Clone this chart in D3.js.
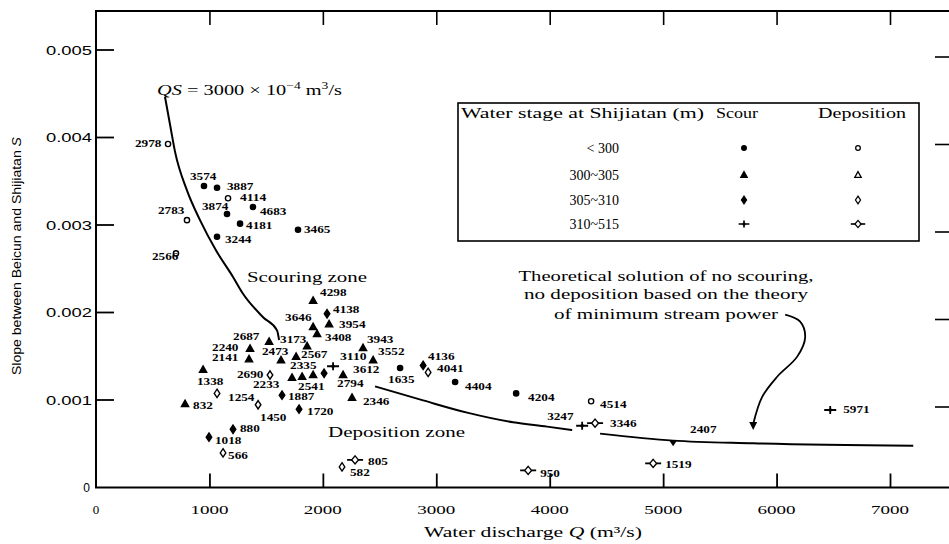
<!DOCTYPE html>
<html><head><meta charset="utf-8">
<script src="https://cdn.jsdelivr.net/npm/d3@7"></script>
<style>body{margin:0;background:#fff}svg{display:block}</style>
</head><body>
<svg id="c" width="949" height="544"></svg>
<script>
// ---------- data ----------
const xTicks = [0, 1000, 2000, 3000, 4000, 5000, 6000, 7000];
const xTickLabels = ["0", "1000", "2000", "3000", "4000", "5000", "6000", "7000"];
const yTicks = [0, 0.001, 0.002, 0.003, 0.004, 0.005];
const yTickLabels = ["0", "0.001", "0.002", "0.003", "0.004", "0.005"];

const legendStages = ["< 300", "300~305", "305~310", "310~515"];

// point values: discharge Q, slope S, kind (scour / deposition), stage index
const pointLabels = ["2978","3574","3887","4114","3874","4683","4181","3465","3244","2783","2566",
  "4298","4138","3954","3646","3408","2687","3173","2567","2240","2141","2473","2335","2541","2233","",
  "3943","3552","3110","3612","2794","2690","","1338","832","1887","1254","1450","2346","1720",
  "880","1018","566","805","582","950","1519","1635","4136","4041","4404","4204","4514","3247","3346","5971","2407"];
const pointQ = [635,952,1067,1164,1155,1384,1270,1781,1067,802,705,
  1914,2037,2055,1914,1949,1526,1861,1764,1358,1349,1631,1914,1817,1728,2011,
  2354,2443,2090,2178,2240,1534,944,1067,785,1640,1429,1561,2257,1790,
  1208,996,1120,2284,2169,3810,4912,2681,2884,2928,3166,3704,4365,4286,4400,6473,5088];
const pointS = [0.00392,0.00344,0.00342,0.00330,0.00312,0.00320,0.00301,0.00294,0.00286,0.00305,0.00267,
  0.00213,0.00198,0.00186,0.00183,0.00175,0.00166,0.00161,0.00149,0.00158,0.00146,0.00145,0.00128,0.00126,0.00125,0.00130,
  0.00159,0.00145,0.00138,0.00128,0.00118,0.00128,0.00134,0.00107,0.00095,0.00105,0.00094,0.00079,0.00102,0.00089,
  0.00066,0.00057,0.00039,0.00031,0.00023,0.00019,0.00027,0.00136,0.00139,0.00131,0.00120,0.00107,0.00098,0.00070,0.00073,0.00088,0.00050];
const pointKind = ["d","s","s","d","s","s","s","s","s","d","d",
  "s","s","s","s","s","s","s","s","s","s","s","s","s","s","s",
  "s","s","s","s","n","d","s","d","s","s","d","n","s","s",
  "s","s","d","d","d","d","d","s","s","d","s","s","d","s","d","s","m"];
const pointStage = [0,0,0,0,0,0,0,0,0,0,0,
  1,2,1,1,1,1,1,1,1,1,1,1,1,1,2,
  1,1,3,1,-1,2,1,2,1,2,2,-1,1,2,
  2,2,2,3,2,3,3,0,2,2,0,0,0,3,3,3,-1];

// QS = const curve
const qsCurveQ = [608,653,697,802,917,1060,1208,1290,1473,1596,1614];
const qsCurveS = [0.00446,0.00414,0.00383,0.00339,0.00305,0.00270,0.00240,0.00222,0.00194,0.00179,0.00168];
// theoretical solution (null = gap)
const theoryQ = [2460,2884,3272,3677,3977,4198,null,4444,5088,5794,7205];
const theoryS = [0.00115,0.00099,0.00085,0.00074,0.00069,0.00065,null,0.00061,0.00053,0.00050,0.00047];
// annotation arrow path
const arrowQ = [6076,6208,6252,6182,6005,5873,5794];
const arrowS = [0.00197,0.00189,0.00171,0.00149,0.00126,0.00103,0.00072];

// ---------- layout ----------
const labelOffset = [[-33,3],[-14,-6],[10,2],[12,3],[-25,-4],[7,8],[6,5],[6,3],[8,6],[-29,-6],[-24,7],
  [7,-5],[6,-1],[10,4],[-28,-6],[8,7],[-36,-2],[-27,-3],[5,1],[-38,2],[-37,2],[-19,-5],[-23,-6],[-4,13],[-39,10],[0,0],
  [4,-5],[5,-5],[7,-6],[10,-2],[-13,3],[-33,3],[0,0],[-20,-8],[8,5],[6,5],[-30,-4],[-13,3],[11,7],[8,6],
  [7,3],[6,7],[5,6],[13,5],[8,9],[12,7],[12,5],[-12,15],[5,-5],[9,0],[10,8],[12,8],[9,7],[-35,-6],[15,4],[13,3],[17,-10]];

const svg = d3.select("#c");
const x = d3.scaleLinear().domain([0, 7000]).range([96, 890]);
const y = d3.scaleLinear().domain([0, 0.005]).range([487, 49.5]);
const serif = "'Liberation Serif','Times New Roman',serif";
const sans = "'Liberation Sans','DejaVu Sans',sans-serif";

// frame
const frame = svg.append("g").attr("stroke","#000").attr("fill","none");
frame.append("line").attr("x1",96).attr("x2",96).attr("y1",11).attr("y2",488).attr("stroke-width",2);
frame.append("line").attr("x1",95).attr("x2",949).attr("y1",487.5).attr("y2",487.5).attr("stroke-width",2);
frame.append("line").attr("x1",95).attr("x2",949).attr("y1",11).attr("y2",11).attr("stroke-width",1.8);

// axes via d3
const bottomAxis = d3.axisBottom(x).tickValues(xTicks.slice(1)).tickSize(-14).tickFormat("");
svg.append("g").attr("transform","translate(0,487.5)").call(bottomAxis)
  .call(g=>{g.select(".domain").remove(); g.selectAll("line").attr("stroke","#000").attr("stroke-width",1.8);});
const topAxis = d3.axisTop(x).tickValues(xTicks.slice(1)).tickSize(-14).tickFormat("");
svg.append("g").attr("transform","translate(0,11)").call(topAxis)
  .call(g=>{g.select(".domain").remove(); g.selectAll("line").attr("stroke","#000").attr("stroke-width",1.6);});
const leftAxis = d3.axisLeft(y).tickValues(yTicks.slice(1)).tickSize(-18).tickFormat("");
svg.append("g").attr("transform","translate(96,0)").call(leftAxis)
  .call(g=>{g.select(".domain").remove(); g.selectAll("line").attr("stroke","#000").attr("stroke-width",1.8);});
const rightAxis = d3.axisRight(y).tickValues(yTicks.slice(1)).tickSize(-14).tickFormat("");
svg.append("g").attr("transform","translate(949,7)").call(rightAxis)
  .call(g=>{g.select(".domain").remove(); g.selectAll("line").attr("stroke","#000").attr("stroke-width",1.6);});

// tick labels
svg.append("g").selectAll("text").data(xTicks).join("text")
  .attr("x", d=>x(d)).attr("y", 514).attr("text-anchor","middle")
  .attr("font-family", serif).attr("font-size", 13)
  .attr("textLength",(d,i)=>xTickLabels[i].length>1?38:null)
  .attr("lengthAdjust","spacingAndGlyphs")
  .text((d,i)=>xTickLabels[i]);
svg.append("g").selectAll("text").data(yTicks).join("text")
  .attr("x", (d,i)=>i===0?90:92).attr("y", d=>y(d)+5).attr("text-anchor","end")
  .attr("font-family", sans).attr("font-size", 12)
  .attr("textLength",(d,i)=>yTickLabels[i].length>1?46:null)
  .attr("lengthAdjust","spacingAndGlyphs")
  .text((d,i)=>yTickLabels[i]);

// axis titles
const xt = svg.append("text").attr("x",533).attr("y",537).attr("text-anchor","middle")
  .attr("font-family",serif).attr("font-size",14).attr("textLength",218).attr("lengthAdjust","spacingAndGlyphs");
xt.append("tspan").text("Water discharge ");
xt.append("tspan").attr("font-style","italic").text("Q");
xt.append("tspan").text(" (m³/s)");
const yt = svg.append("text").attr("transform","translate(21,256) rotate(-90)").attr("text-anchor","middle")
  .attr("font-family",sans).attr("font-size",12).attr("textLength",238).attr("lengthAdjust","spacingAndGlyphs");
yt.append("tspan").text("Slope between Beicun and Shijiatan ");
yt.append("tspan").attr("font-style","italic").text("S");

// curves
const line = d3.line().defined(d=>d[0]!==null).x(d=>x(d[0])).y(d=>y(d[1])).curve(d3.curveMonotoneX);
svg.append("path").attr("d", line(qsCurveQ.map((q,i)=>[q,qsCurveS[i]])))
  .attr("fill","none").attr("stroke","#000").attr("stroke-width",2);
svg.append("path").attr("d", line(theoryQ.map((q,i)=>[q,theoryS[i]])))
  .attr("fill","none").attr("stroke","#000").attr("stroke-width",2);
const arrowLine = d3.line().x(d=>x(d[0])).y(d=>y(d[1])).curve(d3.curveCatmullRom);
svg.append("path").attr("d", arrowLine(arrowQ.map((q,i)=>[q,arrowS[i]])))
  .attr("fill","none").attr("stroke","#000").attr("stroke-width",1.8);
{ // arrow head
  const ax = x(arrowQ[arrowQ.length-1]), ay = y(arrowS[arrowS.length-1]);
  svg.append("path").attr("d",`M${ax-4},${ay-2}L${ax+4},${ay-2}L${ax},${ay+6}Z`).attr("fill","#000");
}

// symbols
function sym(g, kind, stage, cx, cy, scale=1){
  const k = scale;
  const fill = kind==="s" ? "#000" : "#fff";
  const st = {stroke:"#000","stroke-width":1.4*k};
  const ap = (el,o)=>{for(const a in o) el.attr(a,o[a]); return el;};
  if(kind==="m"){
    g.append("path").attr("d",`M${cx-4},${cy-3}L${cx+4},${cy-3}L${cx},${cy+3}Z`).attr("fill","#000");
    return;
  }
  if(stage===0){
    ap(g.append("circle").attr("cx",cx).attr("cy",cy).attr("r",2.6*k).attr("fill",fill), st);
  } else if(stage===1){
    ap(g.append("path").attr("d",`M${cx},${cy-3.8*k}L${cx+3.6*k},${cy+2.6*k}L${cx-3.6*k},${cy+2.6*k}Z`).attr("fill",fill), st);
  } else if(stage===2){
    ap(g.append("path").attr("d",`M${cx},${cy-4.2*k}L${cx+2.8*k},${cy}L${cx},${cy+4.2*k}L${cx-2.8*k},${cy}Z`).attr("fill",fill), st);
  } else if(stage===3){
    if(kind==="s"){
      ap(g.append("path").attr("d",`M${cx-6*k},${cy}H${cx+6*k}M${cx},${cy-4*k}V${cy+4*k}`).attr("fill","none"), {stroke:"#000","stroke-width":1.8*k});
      g.append("circle").attr("cx",cx).attr("cy",cy).attr("r",1.8*k).attr("fill","#000");
    } else {
      ap(g.append("path").attr("d",`M${cx-8*k},${cy}H${cx+8*k}`).attr("fill","none"), {stroke:"#000","stroke-width":1.8*k});
      ap(g.append("path").attr("d",`M${cx},${cy-4*k}L${cx+3.4*k},${cy}L${cx},${cy+4*k}L${cx-3.4*k},${cy}Z`).attr("fill","#fff"), st);
    }
  }
}

const pts = svg.append("g");
pointQ.forEach((q,i)=>{
  const cx = x(q), cy = y(pointS[i]);
  if(pointKind[i]!=="n") sym(pts, pointKind[i], pointStage[i], cx, cy);
  const lab = pointLabels[i];
  if(lab){
    const [dx,dy] = labelOffset[i];
    pts.append("text").attr("x",cx+dx).attr("y",cy+dy)
      .attr("font-family",serif).attr("font-size",10).attr("font-weight","bold")
      .attr("textLength",lab.length*6.6).attr("lengthAdjust","spacingAndGlyphs")
      .text(lab);
  }
});

// in-plot texts
const qs = svg.append("text").attr("x",157).attr("y",95).attr("font-family",serif).attr("font-size",15)
  .attr("textLength",185).attr("lengthAdjust","spacingAndGlyphs");
qs.append("tspan").attr("font-style","italic").text("QS");
qs.append("tspan").text(" = 3000 × 10");
qs.append("tspan").attr("font-size",10).attr("dy",-6).text("−4");
qs.append("tspan").attr("dy",6).text(" m");
qs.append("tspan").attr("font-size",10).attr("dy",-6).text("3");
qs.append("tspan").attr("dy",6).text("/s");

svg.append("text").attr("x",247).attr("y",282).attr("font-family",serif).attr("font-size",15)
  .attr("textLength",120).attr("lengthAdjust","spacingAndGlyphs").text("Scouring zone");
svg.append("text").attr("x",328).attr("y",437).attr("font-family",serif).attr("font-size",15)
  .attr("textLength",137).attr("lengthAdjust","spacingAndGlyphs").text("Deposition zone");

const annLines = ["Theoretical solution of no scouring,","no deposition based on the theory","of minimum stream power"];
const annLen = [295,284,224];
const annY = [281,299,319];
annLines.forEach((t,i)=>{
  svg.append("text").attr("x",666).attr("y",annY[i]).attr("text-anchor","middle")
    .attr("font-family",serif).attr("font-size",14)
    .attr("textLength",annLen[i]).attr("lengthAdjust","spacingAndGlyphs").text(t);
});

// legend
const lg = svg.append("g");
lg.append("rect").attr("x",458).attr("y",103).attr("width",461).attr("height",138)
  .attr("fill","#fff").attr("stroke","#000").attr("stroke-width",1.6);
lg.append("text").attr("x",461).attr("y",118).attr("font-family",serif).attr("font-size",14)
  .attr("textLength",243).attr("lengthAdjust","spacingAndGlyphs").text("Water stage at Shijiatan (m)");
lg.append("text").attr("x",716).attr("y",118).attr("font-family",serif).attr("font-size",14)
  .attr("textLength",42).attr("lengthAdjust","spacingAndGlyphs").text("Scour");
lg.append("text").attr("x",818).attr("y",118).attr("font-family",serif).attr("font-size",14)
  .attr("textLength",88).attr("lengthAdjust","spacingAndGlyphs").text("Deposition");
const rowY = [148,175,200,224];
legendStages.forEach((s,i)=>{
  lg.append("text").attr("x",619).attr("y",rowY[i]+5).attr("text-anchor","end")
    .attr("font-family",serif).attr("font-size",14).text(s);
  sym(lg,"s",i,744,rowY[i],0.9);
  sym(lg,"d",i,858,rowY[i],0.9);
});
</script>
</body></html>
